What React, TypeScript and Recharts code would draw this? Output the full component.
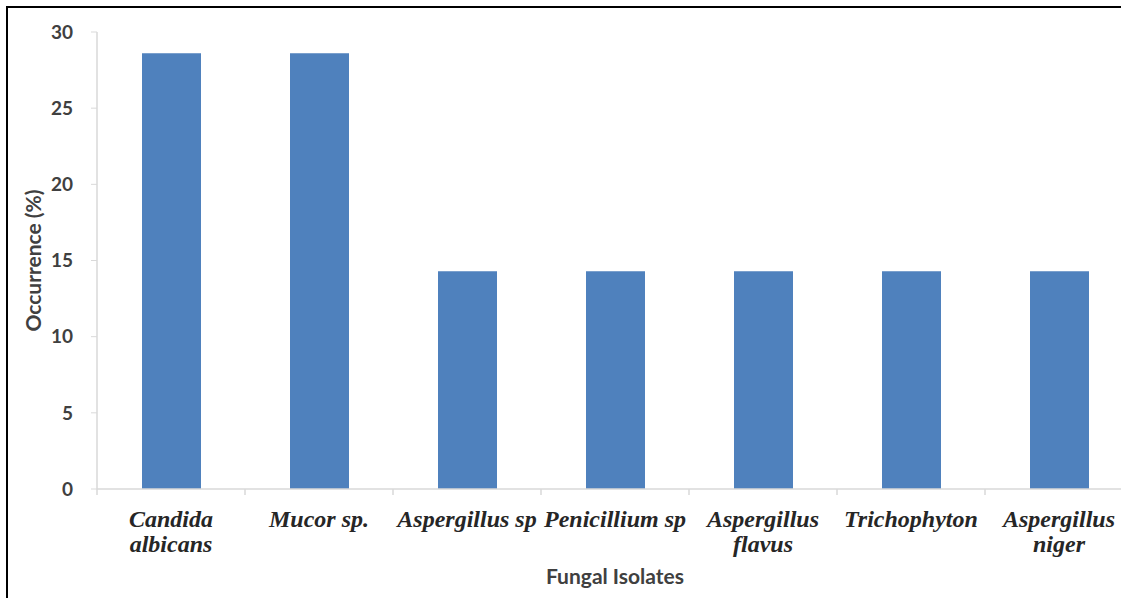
import { BarChart, Bar, XAxis, YAxis, Label } from 'recharts'

// Fungal isolates and their occurrence (%)
const isolates = [
  'Candida\nalbicans',
  'Mucor sp.',
  'Aspergillus sp',
  'Penicillium sp',
  'Aspergillus\nflavus',
  'Trichophyton',
  'Aspergillus\nniger',
]
const occurrence = [28.6, 28.6, 14.3, 14.3, 14.3, 14.3, 14.3]
const yTicks = [0, 5, 10, 15, 20, 25, 30]

const data = isolates.map((name, i) => ({ name, value: occurrence[i] }))

const AXIS_GREY = '#d9d9d9'
const TEXT_GREY = '#404040'
const BAR_BLUE = '#4f81bd'

// Excel-style category tick: tick marks sit on the band edges, label is
// bold italic serif, split on \n for two-line names.
function IsolateTick(props: any) {
  const { x, y, payload, index, visibleTicksCount } = props
  const half = payload?.offset ?? 74
  const lines = String(payload.value).split('\n')
  const isLast = index === (visibleTicksCount ?? isolates.length) - 1
  return (
    <g>
      <line x1={x - half} x2={x - half} y1={y} y2={y + 6} stroke={AXIS_GREY} strokeWidth={1.5} />
      {isLast && (
        <line x1={x + half} x2={x + half} y1={y} y2={y + 6} stroke={AXIS_GREY} strokeWidth={1.5} />
      )}
      <text
        x={x}
        y={y}
        textAnchor="middle"
        fill="#262626"
        style={{
          fontFamily: '"Liberation Serif", "Times New Roman", serif',
          fontWeight: 700,
          fontStyle: 'italic',
          fontSize: 24,
        }}
      >
        {lines.map((l, i) => (
          <tspan key={i} x={x} y={y + 38 + i * 25}>{l}</tspan>
        ))}
      </text>
    </g>
  )
}

export default function App() {
  return (
    <div
      style={{
        position: 'fixed',
        left: 0,
        top: 0,
        width: 1121,
        height: 598,
        overflow: 'hidden',
        background: 'white',
      }}
    >
      {/* the figure frame: only left + top edges show in the crop */}
      <div
        style={{
          position: 'absolute',
          left: 6,
          top: 6,
          width: 1200,
          height: 700,
          borderLeft: '2px solid #000',
          borderTop: '2px solid #000',
        }}
      />
      <div style={{ position: 'absolute', left: 0, top: 0 }}>
        <BarChart
          width={1140}
          height={598}
          data={data}
          margin={{ top: 32, right: 7, bottom: 0, left: 0 }}
          barSize={59}
        >
          <XAxis
            dataKey="name"
            height={109}
            interval={0}
            axisLine={{ stroke: AXIS_GREY, strokeWidth: 1.5 }}
            tickLine={false}
            tickSize={0}
            tickMargin={0}
            tick={<IsolateTick />}
          >
            <Label
              value="Fungal Isolates"
              position="insideBottom"
              offset={14}
              style={{ fontFamily: 'Lato, sans-serif', fontWeight: 700, fontSize: 21, fill: TEXT_GREY }}
            />
          </XAxis>
          <YAxis
            width={97}
            domain={[0, 30]}
            ticks={yTicks}
            interval={0}
            axisLine={{ stroke: AXIS_GREY, strokeWidth: 1.5 }}
            tickLine={{ stroke: AXIS_GREY }}
            tickSize={6}
            tickMargin={18}
            tick={{ fill: TEXT_GREY, fontFamily: 'Lato, sans-serif', fontWeight: 700, fontSize: 19 }}
          >
            <Label
              value="Occurrence (%)"
              angle={-90}
              position="center"
              dx={-15}
              style={{ fontFamily: 'Lato, sans-serif', fontWeight: 700, fontSize: 21, fill: TEXT_GREY }}
            />
          </YAxis>
          <Bar dataKey="value" fill={BAR_BLUE} isAnimationActive={false} />
        </BarChart>
      </div>
    </div>
  )
}
